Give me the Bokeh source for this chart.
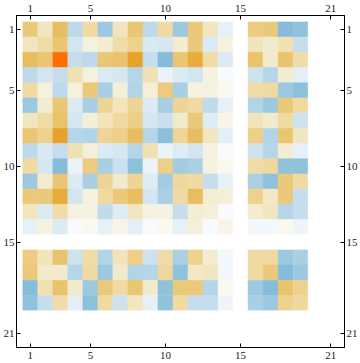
from bokeh.plotting import figure
from bokeh.models import ColumnDataSource, LinearColorMapper, Range1d, LinearAxis, FixedTicker
from bokeh.transform import transform
from bokeh.embed import file_html
from bokeh.resources import INLINE

# matrix rows (row 1 at top), 21 columns each
row01 = [.45, .2, .55, -.35, .3, -.55, .2, .47, -.35, .3, -.55, .45, .2, -.1, 0, .42, .45, -.65, -.6, 0, 0]
row02 = [.2, .28, .48, -.22, .09, .13, .28, .38, -.18, -.2, .13, .45, -.17, .08, 0, .22, .15, .25, -.3, 0, 0]
row03 = [.55, .48, 1.0, -.3, -.35, .47, .5, .7, -.3, -.65, .48, .65, .28, -.17, 0, .5, .15, .5, .28, 0, 0]
row04 = [-.35, -.22, -.3, .25, .09, -.17, -.2, -.4, .25, -.08, -.17, -.22, .08, -.03, 0, -.25, -.4, .13, -.12, 0, 0]
row05 = [.3, .09, -.35, .09, .45, -.5, .1, -.42, .1, .43, -.5, .08, .08, .04, 0, .28, .3, -.55, -.62, 0, 0]
row06 = [-.55, .13, .47, -.17, -.5, .35, .21, .35, -.17, -.5, .35, .3, -.33, -.1, 0, -.42, -.55, .45, .3, 0, 0]
row07 = [.2, .28, .5, -.2, .1, .21, .3, .4, -.2, -.27, .15, .45, -.15, .06, 0, .22, .15, .3, -.25, 0, 0]
row08 = [.47, .38, .7, -.4, -.42, .35, .4, .55, -.4, -.62, .35, .55, .2, -.12, 0, .4, -.42, .48, .2, 0, 0]
row09 = [-.35, -.18, -.3, .25, .1, -.17, -.2, -.4, .25, -.08, -.15, -.22, .08, -.03, 0, -.25, -.4, .13, -.1, 0, 0]
row10 = [.3, -.2, -.65, -.08, .43, -.5, -.27, -.62, -.08, .4, -.52, -.48, .08, .04, 0, .28, .32, -.6, -.6, 0, 0]
row11 = [-.55, .13, .48, -.17, -.5, .35, .15, .35, -.15, -.52, .32, .3, -.3, -.1, 0, -.48, -.6, .45, .3, 0, 0]
row12 = [.45, .45, .65, -.22, .08, .3, .45, .55, -.22, -.48, .3, .55, .12, .1, 0, .38, .18, .45, -.3, 0, 0]
row13 = [.2, -.17, .28, .08, .08, -.33, -.15, .2, .08, .08, -.3, .12, .1, -.03, 0, .13, .2, -.4, -.3, 0, 0]
row14 = [-.1, .08, -.17, -.03, .04, -.1, .06, -.12, -.03, .04, -.1, .1, -.03, .06, 0, -.05, -.05, .04, -.07, 0, 0]
row15 = [0] * 21
row16 = [.42, .22, .5, -.25, .28, -.42, .22, .4, -.25, .28, -.48, .38, .13, -.05, 0, .3, .3, -.55, -.5, 0, 0]
row17 = [.45, .15, .15, -.4, .3, -.55, .15, -.42, -.4, .32, -.6, .18, .2, -.05, 0, .3, .45, -.65, -.55, 0, 0]
row18 = [-.65, .25, .5, .15, -.55, .45, .3, .48, .15, -.6, .45, .45, -.4, .04, 0, -.55, -.65, .5, .38, 0, 0]
row19 = [-.6, -.3, .28, -.12, -.62, .3, -.25, .2, -.1, -.6, .3, -.3, -.3, -.07, 0, -.5, -.55, .38, .32, 0, 0]
row20 = [0] * 21
row21 = [0] * 21

tick_values = [1, 5, 10, 15, 21]

rows = [row01, row02, row03, row04, row05, row06, row07, row08, row09, row10, row11,
        row12, row13, row14, row15, row16, row17, row18, row19, row20, row21]

xs, ys, vs = [], [], []
for i, r in enumerate(rows):
    for j, v in enumerate(r):
        xs.append(j + 1)
        ys.append(i + 1)
        vs.append(v)
src = ColumnDataSource(dict(x=xs, y=ys, v=vs))

# colour scale anchors (style)
anchors = [(-1.0, "#4F93C2"), (-0.65, "#86BCD9"), (-0.6, "#90C2DC"), (-0.5, "#A8CFE3"),
           (-0.4, "#B5D5E8"), (-0.3, "#C5DDEC"), (-0.2, "#D6E7F1"), (-0.1, "#E6F0F7"),
           (0.0, "#FFFFFF"), (0.1, "#F3EFD8"), (0.2, "#F2E6C0"), (0.3, "#F0DAA2"),
           (0.45, "#EBC97A"), (0.55, "#E8BD60"), (0.7, "#E6A32A"), (1.0, "#FF6E00")]

def hex2rgb(h):
    return tuple(int(h[k:k + 2], 16) for k in (1, 3, 5))

palette = []
N = 401
for k in range(N):
    t = -1 + 2 * k / (N - 1)
    for (a, ca), (b, cb) in zip(anchors[:-1], anchors[1:]):
        if a <= t <= b:
            f = (t - a) / (b - a) if b > a else 0
            c1, c2 = hex2rgb(ca), hex2rgb(cb)
            rgb = tuple(round(c1[m] + (c2[m] - c1[m]) * f) for m in range(3))
            palette.append("#%02X%02X%02X" % rgb)
            break

mapper = LinearColorMapper(palette=palette, low=-1, high=1)

p = figure(width=360, height=363, output_backend="svg", toolbar_location=None,
           x_range=Range1d(0.08, 21.92), y_range=Range1d(21.92, 0.08),
           min_border_left=13, min_border_right=14, min_border_top=15, min_border_bottom=16,
           x_axis_location="below", y_axis_location="left")
p.rect(x="x", y="y", width=1, height=1, source=src,
       fill_color=transform("v", mapper), line_color=transform("v", mapper), line_width=0.5)

p.add_layout(LinearAxis(), "above")
p.add_layout(LinearAxis(), "right")

for ax in p.axis:
    ax.ticker = FixedTicker(ticks=tick_values)
    ax.major_tick_in = 4
    ax.major_tick_out = 0
    ax.minor_tick_line_color = None
    ax.axis_line_color = "black"
    ax.major_tick_line_color = "black"
    ax.major_label_text_font = "Liberation Serif"
    ax.major_label_text_font_size = "11px"
    ax.major_label_text_color = "#1a1a2a"

for ax in p.xaxis:
    ax.major_label_standoff = 4
for ax in p.yaxis:
    ax.major_label_standoff = 2

p.grid.visible = False
p.outline_line_color = "black"
p.background_fill_color = "white"
p.border_fill_color = "white"

open("out.html", "w").write(file_html(p, INLINE))
